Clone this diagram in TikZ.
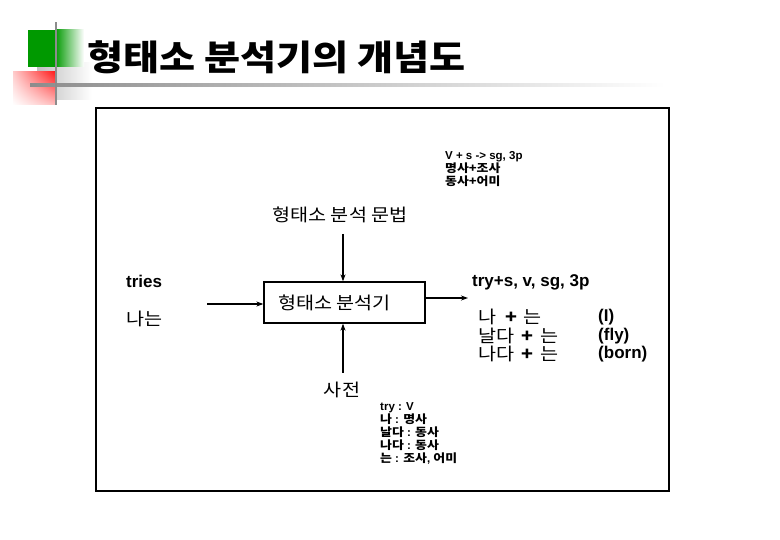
\documentclass[tikz,border=0pt]{standalone}
\usepackage{fontspec}
\setmainfont{Liberation Sans}
\newfontfamily\kr{Noto Sans CJK KR}[FakeStretch=1.12]
\usetikzlibrary{arrows.meta,shadings}
\tikzset{
  conn/.style={line width=1.2pt,-{Stealth[length=7pt,width=5pt]}},
  bigtxt/.style={font=\fontsize{17}{18.5}\selectfont\bfseries,inner sep=0pt,align=left},
  krtxt/.style={font=\kr\fontsize{17.5}{18.5}\selectfont,inner sep=0pt,align=left},
  smalltxt/.style={font=\fontsize{11.5}{13}\selectfont\bfseries,inner sep=0pt,align=left},
}
\begin{document}
\begin{tikzpicture}[x=1pt,y=-1pt]
\useasboundingbox[fill=white] (0,0) rectangle (780,540);
% title decoration
\shade[left color=black!25,right color=white] (37,63) rectangle (92,100);
\fill[green!60!black] (28,30) rectangle (56,67);
\shade[left color=green!60!black,right color=white] (55,30) rectangle (84,67);
\shade[upper left=red!20,upper right=red!90,lower left=white,lower right=red!25] (13,72) rectangle (56,105);
\shade[left color=black!45,right color=white] (30,83.5) rectangle (665,86.5);
\fill[black!45] (54.8,22) rectangle (57.2,105);
\node[anchor=west,inner sep=0pt,font=\kr\fontsize{35}{38}\selectfont\bfseries] (title) at (87,57) {형태소 분석기의 개념도};
% outer frame
\draw[line width=2.5pt] (96,108) rectangle (669,491);
% analyzer box
\node[draw,line width=1.3pt,minimum width=161pt,minimum height=41pt,inner sep=0pt,krtxt] (box) at (344.5,302.5) {형태소 분석기\hspace{20pt}};
% grammar
\node[smalltxt,anchor=north west] (rules) at (445,151) {V + s -> sg, 3p\\{\kr 명사+조사}\\{\kr 동사+어미}};
\node[krtxt] (gram) at (340,215) {형태소 분석 문법};
\coordinate (gtop) at (343,234);
\draw[conn] (gtop) -- (box.north -| gtop);
% input
\node[bigtxt,anchor=west] (tries) at (126,281) {tries};
\node[krtxt,anchor=west] (na) at (126,319) {나는};
\coordinate (inl) at (207,304);
\draw[conn] (inl) -- (inl -| box.west);
% output
\coordinate (outr) at (468,298);
\draw[conn] (outr -| box.east) -- (outr);
\node[bigtxt,anchor=west] (out1) at (472,282) {try+s, v, sg, 3p};
\node[krtxt,anchor=north west] (out2) at (478,309)
  {나\hspace{9pt}\textbf{+}\hspace{6pt}는\\날다\hspace{7pt}\textbf{+}\hspace{7pt}는\\나다\hspace{7pt}\textbf{+}\hspace{7pt}는};
\node[bigtxt,anchor=north west] (gloss) at (598,309) {(I)\\(fly)\\(born)};
% dictionary
\coordinate (dbot) at (343,373);
\draw[conn] (dbot) -- (box.south -| dbot);
\node[krtxt] (dic) at (342,390) {사전};
\node[smalltxt,anchor=north west] (dict) at (380,402)
  {try : V\\{\kr 나} : {\kr 명사}\\{\kr 날다} : {\kr 동사}\\{\kr 나다} : {\kr 동사}\\{\kr 는} : {\kr 조사}, {\kr 어미}};
\end{tikzpicture}
\end{document}
